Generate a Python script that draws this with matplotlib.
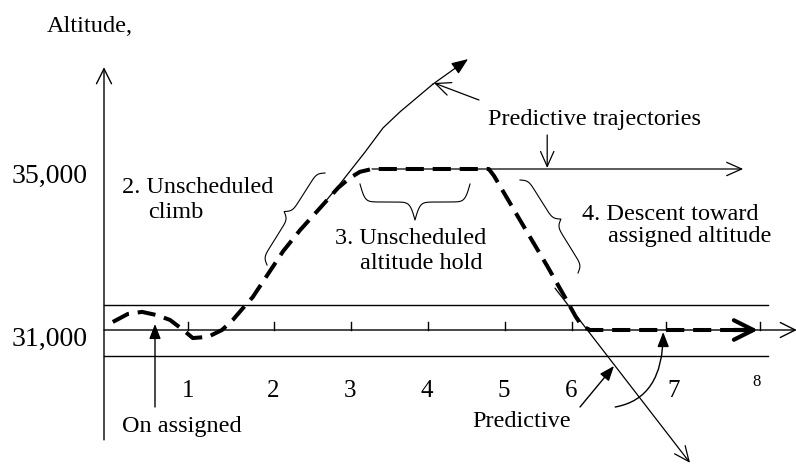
import matplotlib
matplotlib.use("Agg")
import matplotlib.pyplot as plt
import numpy as np

# flown altitude profile (time units, feet)
flown_t = [0.11, 0.30, 0.475, 0.66, 0.825, 0.99, 1.11, 1.30, 1.475, 1.61, 1.74, 1.86,
           2.01, 2.24, 2.45, 2.70, 2.925, 3.075, 3.20, 3.35, 4.81, 4.875, 5.20, 5.54,
           5.76, 5.90, 5.975, 6.075, 8.175]
flown_alt = [31200, 31400, 31450, 31370, 31250, 31000, 30800, 30830, 31000, 31250, 31550, 31820,
             32270, 32960, 33480, 34030, 34530, 34780, 34930, 35000, 35000, 34830, 33730, 32590,
             31820, 31320, 31100, 31000, 31000]

# predictive trajectories
climb_pred_t = [2.70, 2.95, 3.2625, 3.4875, 3.70, 4.1125, 4.55]
climb_pred_alt = [34030, 34630, 35420, 36020, 36420, 37110, 37730]
hold_pred_t = [3.35, 7.99]
hold_pred_alt = [35000, 35000]
desc_pred_t = [5.6375, 7.325]
desc_pred_alt = [32040, 27700]

assigned_alt = 31000
band_alt = [31620, 30360]
ref_alt = [35000, 31000]
ref_labels = ["35,000", "31,000"]

tick_t = [1.05, 2.125, 3.0875, 4.05, 5.0125, 5.85, 7.025, 8.2]
tick_label_t = [1.05, 2.1125, 3.075, 4.0375, 5.0, 5.8375, 7.125, 8.1625]
tick_labels = ["1", "2", "3", "4", "5", "6", "7", "8"]

plt.rcParams['font.family'] = ['Liberation Serif', 'DejaVu Serif']

fig = plt.figure(figsize=(7.96, 4.68), dpi=100)
ax = fig.add_axes([0, 0, 1, 1])
ax.set_xlim(-1.3, 8.65)
ax.set_ylim(31000 - 138 * 4000 / 161, 31000 + 330 * 4000 / 161)
ax.axis('off')

K = 'black'


def arrow(tail, tip, style, lw=0.9, ms=10, conn=None):
    props = dict(arrowstyle=style, lw=lw, color=K, mutation_scale=ms,
                 shrinkA=0, shrinkB=0)
    if conn:
        props['connectionstyle'] = conn
    ax.annotate('', xy=tip, xytext=tail, arrowprops=props, annotation_clip=False)


def brace(p0, p1, depth, side=1):
    # curly brace between two data points, built in pixel space
    a = ax.transData.transform(p0)
    b = ax.transData.transform(p1)
    L = np.hypot(*(b - a))
    u = (b - a) / L
    n = np.array([-u[1], u[0]]) * side
    s = np.linspace(0, L, 201)
    sh = s[:101]
    beta = 22 / (L / 2)
    y = 1 / (1 + np.exp(-beta * (sh - sh[0]))) + 1 / (1 + np.exp(-beta * (sh - sh[-1])))
    y = np.concatenate([y, y[-2::-1]])
    pts = a + np.outer(s, u) + np.outer(depth * (y - 0.5), n)
    d = ax.transData.inverted().transform(pts)
    ax.plot(d[:, 0], d[:, 1], color=K, lw=0.8)


# axes
arrow((0, 28270), (0, 37530), '->,head_length=0.9,head_width=0.45', lw=1.0, ms=12)
arrow((0, assigned_alt), (8.66, assigned_alt), '->,head_length=0.9,head_width=0.45', lw=1.0, ms=12)
for a in band_alt:
    ax.plot([0, 8.3], [a, a], color=K, lw=1.0)
for t in tick_t:
    ax.plot([t, t], [assigned_alt, assigned_alt + 200], color=K, lw=1.0)
for t, lab in zip(tick_label_t[:-1], tick_labels[:-1]):
    ax.text(t, 29335, lab, fontsize=18, ha='center', va='baseline')
ax.text(tick_label_t[-1], 29610, tick_labels[-1], fontsize=12, ha='center', va='baseline')
for a, lab, y in zip(ref_alt, ref_labels, [34652, 30602]):
    ax.text(-0.2, y, lab, fontsize=20, ha='right', va='baseline')
ax.text(-0.7125, 38404, "Altitude,", fontsize=17.5, ha='left', va='baseline')

# predictive trajectories
ax.plot(climb_pred_t[:-1], climb_pred_alt[:-1], color=K, lw=0.9)
arrow((climb_pred_t[-2], climb_pred_alt[-2]), (climb_pred_t[-1], climb_pred_alt[-1]),
      '-|>,head_length=1.0,head_width=0.4', lw=0.9, ms=10)
arrow((hold_pred_t[0], hold_pred_alt[0]), (hold_pred_t[1], hold_pred_alt[1]),
      '->,head_length=0.9,head_width=0.4', lw=0.9, ms=12)
arrow((desc_pred_t[0], desc_pred_alt[0]), (desc_pred_t[1], desc_pred_alt[1]),
      '->,head_length=0.9,head_width=0.4', lw=0.9, ms=12)

# flown path
ax.plot(flown_t[:-1] + [flown_t[-1] - 0.12], flown_alt, color=K, lw=2.9, dashes=(4.5, 2.2),
        dash_capstyle='butt')
arrow((flown_t[-1] - 0.3, flown_alt[-1]), (flown_t[-1], flown_alt[-1]),
      '->,head_length=1.4,head_width=0.7', lw=3.0, ms=10)

# braces
brace((2.0375, 32615), (2.7625, 34900), 14, side=1)
brace((3.2, 34627), (4.575, 34627), 36, side=-1)
brace((5.2, 34727), (5.925, 32416), 14, side=1)

# labels
ax.text(0.225, 34404, "2. Unscheduled", fontsize=17.5, va='baseline')
ax.text(0.55, 33783, "climb", fontsize=17.5, va='baseline')
ax.text(2.8875, 33137, "3. Unscheduled", fontsize=17.5, va='baseline')
ax.text(3.2, 32516, "altitude hold", fontsize=17.5, va='baseline')
ax.text(5.975, 33733, "4. Descent toward", fontsize=17.5, va='baseline')
ax.text(6.3, 33186, "assigned altitude", fontsize=17.5, va='baseline')
ax.text(4.8, 36093, "Predictive trajectories", fontsize=17.5, va='baseline')
ax.text(0.225, 28466, "On assigned", fontsize=17.5, va='baseline')
ax.text(4.6, 28590, "Predictive", fontsize=17.5, va='baseline')

# pointers
arrow((4.6875, 36714), (4.125, 37137), '->,head_length=0.9,head_width=0.4', lw=0.9, ms=12)
arrow((5.54, 35845), (5.54, 35025), '->,head_length=0.9,head_width=0.4', lw=0.9, ms=12)
arrow((0.6375, 29087), (0.6375, 31150), '-|>,head_length=0.9,head_width=0.35', lw=1.0, ms=10)
arrow((5.95, 29087), (6.375, 30106), '-|>,head_length=0.9,head_width=0.35', lw=1.0, ms=10)
arrow((6.39, 29087), (6.99, 30950), '-|>,head_length=0.9,head_width=0.35', lw=1.0, ms=10,
      conn='angle3,angleA=10,angleB=90')

fig.savefig("out.png", dpi=100)
